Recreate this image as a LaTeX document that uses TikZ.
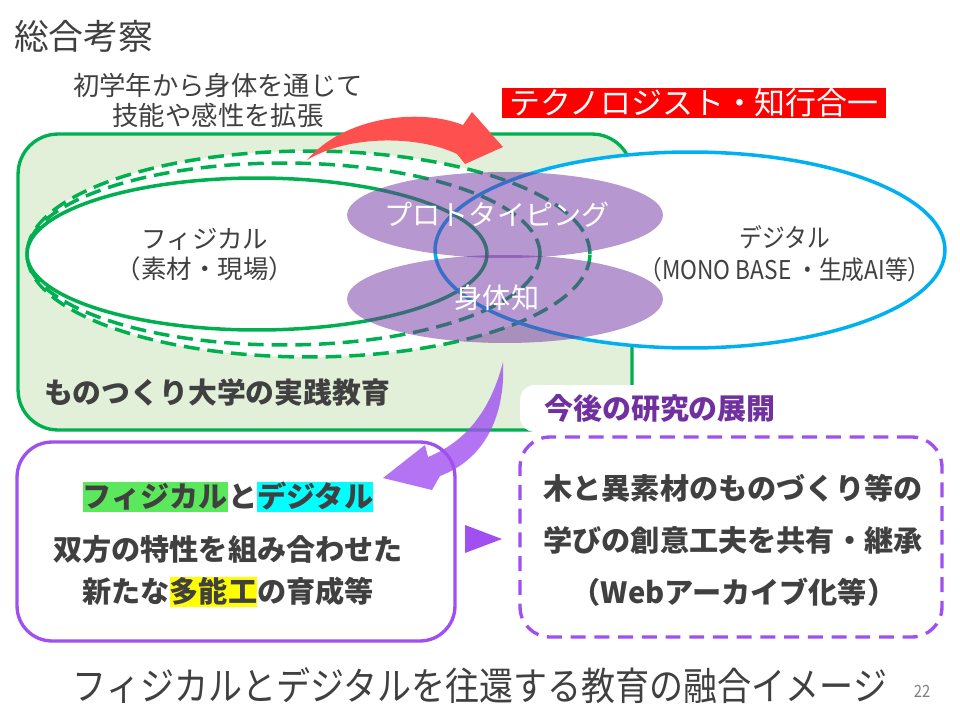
\documentclass[tikz,border=0pt]{standalone}
\usepackage{fontspec}
\setmainfont{Noto Sans CJK JP}
\newfontfamily\narrowjp[FakeStretch=0.88]{Noto Sans CJK JP}
\usetikzlibrary{positioning, shapes.geometric}

\definecolor{inkgray}{RGB}{64,64,64}
\definecolor{zonegreen}{RGB}{0,176,80}
\definecolor{zonefill}{RGB}{226,240,217}
\definecolor{digiblue}{RGB}{0,176,240}
\definecolor{blobpurple}{RGB}{112,48,160}
\definecolor{bannerred}{RGB}{255,0,0}
\definecolor{arrowred}{RGB}{255,80,80}
\definecolor{framepurple}{RGB}{160,80,240}
\definecolor{headpurple}{RGB}{112,48,160}
\definecolor{hlgreen}{RGB}{92,232,92}
\definecolor{hlcyan}{RGB}{0,255,255}
\definecolor{hlyellow}{RGB}{255,255,0}

\newcommand{\hilite}[2]{{\setlength{\fboxsep}{0pt}\colorbox{#1}{\rule[-0.14em]{0pt}{1.02em}#2}}}

\tikzset{
  headline/.style={text=inkgray, anchor=west, font=\fontsize{19.8}{22}\selectfont},
  subnote/.style={text=inkgray, align=center, font=\fontsize{15}{17}\selectfont},
  banner/.style={
    fill=bannerred,
    text=white,
    inner sep=0pt,
    minimum width=7.7cm,
    minimum height=0.62cm,
    font=\fontsize{17.6}{20}\selectfont
  },
  zone/.style={
    draw=zonegreen,
    line width=1.9pt,
    fill=zonefill,
    rounded corners=0.8cm,
    minimum width=12.28cm,
    minimum height=5.92cm
  },
  ring/.style={ellipse, draw=zonegreen, line width=2pt, fill=white, inner sep=0pt},
  dashring/.style={ring, dash pattern=on 9pt off 4.5pt},
  digiring/.style={
    ellipse,
    draw=digiblue,
    line width=2pt,
    inner sep=0pt,
    minimum width=10.2cm,
    minimum height=3.92cm
  },
  blob/.style={ellipse, fill=blobpurple, fill opacity=0.5, inner sep=0pt, minimum width=6.32cm},
  bloblabel/.style={text=white, font=\fontsize{16}{18}\selectfont},
  ovaltext/.style={text=inkgray, align=center, font=\fontsize{14.5}{17}\selectfont},
  zonetext/.style={text=inkgray, font=\bfseries\fontsize{16.4}{19}\selectfont},
  mixbox/.style={
    draw=framepurple,
    line width=1.9pt,
    fill=white,
    rounded corners=0.7cm,
    minimum width=8.76cm,
    minimum height=3.98cm
  },
  ideabox/.style={
    draw=framepurple,
    line width=1.9pt,
    dash pattern=on 8.5pt off 5pt,
    rounded corners=0.6cm,
    minimum width=8.44cm,
    minimum height=4cm
  },
  tag/.style={
    fill=white,
    rounded corners=0.3cm,
    minimum width=5.6cm,
    minimum height=0.94cm,
    text=headpurple,
    font=\bfseries\fontsize{16.5}{19}\selectfont
  },
  boxtext/.style={text=inkgray, font=\bfseries\fontsize{16.6}{19}\selectfont},
  footline/.style={text=inkgray, font=\narrowjp\fontsize{22}{24}\selectfont},
  pagenum/.style={text=gray, font=\narrowjp\fontsize{9.6}{11}\selectfont}
}

\begin{document}
\begin{tikzpicture}[x=0.02cm, y=-0.02cm]
    \useasboundingbox (0,0) rectangle (960,720);

    \node[headline] (title) at (8,36) {総合考察};
    \node[subnote] (reach) at (218,100) {初学年から身体を通じて\\技能や感性を拡張};
    \node[banner] (motto) at (694,103) {テクノロジスト・知行合一};

    % practice zone with the rings
    \node[zone] (campus) at (325,282) {};
    \node[digiring, draw=none, fill=white] (digifill) at (690,250) {};
    \node[dashring, minimum width=11.26cm, minimum height=4.12cm] (outerring) at (308.5,254) {};
    \node[dashring, minimum width=10.26cm, minimum height=3.64cm] (innerring) at (283.5,254) {};
    \node[ring, minimum width=9.2cm, minimum height=3.04cm] (phys) at (257,254) {};
    \node[digiring] (digi) at (690,250) {};
    \node[blob, minimum height=1.72cm] (proto) at (505,215) {};
    \node[blob, minimum height=1.76cm] (body) at (505,299) {};

    \node[ovaltext] (physlabel) at (205,255) {フィジカル\\（素材・現場）};
    \node[ovaltext, font=\narrowjp\fontsize{14.7}{18}\selectfont] (digilabel) at (785,254) {デジタル\\（MONO BASE ・生成AI等）};
    \node[bloblabel] (protolabel) at (497,215) {プロトタイピング};
    \node[bloblabel] (bodylabel) at (497,298) {身体知};
    \node[zonetext] (practice) at (217,393) {ものつくり大学の実践教育};

    % red curved arrow
    \coordinate (rtail) at (307,160);
    \coordinate (rtip) at (503,147);
    \fill[arrowred] (rtail) .. controls (345,116) and (420,108) .. (463,125) -- (472,112) -- (rtip)
        -- (465,164) -- (457,154) .. controls (420,136) and (350,134) .. (rtail) -- cycle;

    % lower boxes
    \node[mixbox] (fusion) at (236,541.5) {};
    \node[ideabox] (outlook) at (731,537) {};
    \node[tag] (plan) at (660,408.5) {今後の研究の展開};

    \node[boxtext] (mix1) at (228,497) {\hilite{hlgreen}{フィジカル}と\hilite{hlcyan}{デジタル}};
    \node[boxtext] (mix2) at (228,549) {双方の特性を組み合わせた};
    \node[boxtext] (mix3) at (228,592) {新たな\hilite{hlyellow}{多能工}の育成等};

    \node[boxtext] (idea1) at (733,488) {木と異素材のものづくり等の};
    \node[boxtext] (idea2) at (733,540) {学びの創意工夫を共有・継承};
    \node[boxtext] (idea3) at (734,592) {（Webアーカイブ化等）};

    % purple curved arrow and pointer
    \coordinate (ptail) at (503,362);
    \coordinate (ptip) at (383,478);
    \fill[framepurple, fill opacity=0.8] (ptail) .. controls (492,405) and (470,440) .. (428,457) -- (425,445) -- (ptip)
        -- (432,490) -- (440,476) .. controls (495,455) and (505,400) .. (ptail) -- cycle;
    \fill[framepurple] (465,525) -- (502,539) -- (465,553) -- cycle;

    \node[footline] (summary) at (480,686) {フィジカルとデジタルを往還する教育の融合イメージ};
    \node[pagenum] (page) at (922,691) {22};
\end{tikzpicture}
\end{document}
